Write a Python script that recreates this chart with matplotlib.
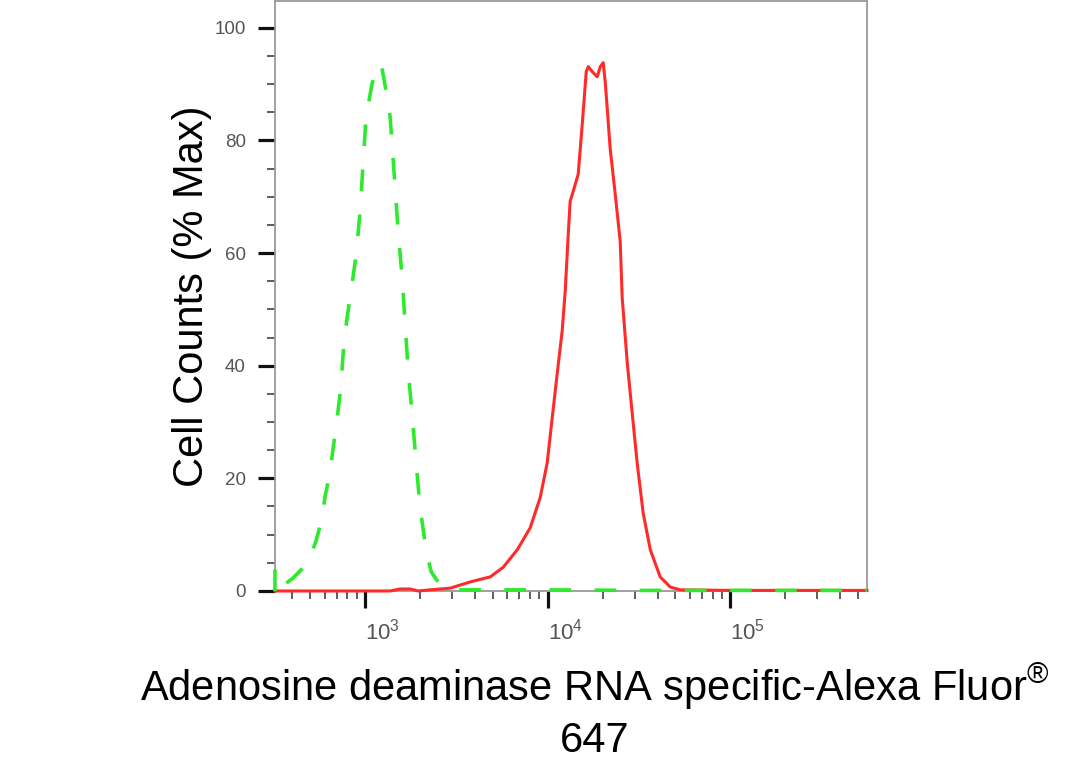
import matplotlib
matplotlib.use("Agg")
import matplotlib.pyplot as plt
import numpy as np

plt.rcParams['font.family'] = ['Liberation Sans', 'DejaVu Sans']
plt.rcParams['mathtext.fontset'] = 'custom'
plt.rcParams['mathtext.rm'] = 'Liberation Sans'
plt.rcParams['mathtext.it'] = 'Liberation Sans'

# controle isotipo (verde, tracejado): intensidade x % max
iso_x = [321, 321, 360, 403, 488, 540, 581, 604, 643, 668, 693, 721, 738, 757,
         776, 807, 838, 893, 940, 975, 1012, 1092, 1178, 1225, 1288, 1371, 1442,
         1517, 1596, 1656, 1722, 1811, 1901, 2000, 2158, 2301, 2512, 2812, 3319,
         5000, 10000, 30000, 100000, 300000, 560000]
iso_y = [0, 4.1, 1.1, 2.3, 5.0, 9.0, 12.9, 16.8, 21.1, 25.3, 29.0, 33.6, 36.5, 41.8,
         45.7, 49.7, 53.3, 59.6, 67.6, 75.9, 84.1, 90.1, 93.3, 93.6, 89.7, 84.2, 74.2,
         63.9, 55.6, 47.6, 39.1, 31.3, 23.0, 14.9, 7.3, 3.4, 1.6, 0.5, 0.2,
         0.2, 0.2, 0.1, 0.1, 0.1, 0.1]

# amostra marcada (vermelho)
amo_x = [321, 1371, 1556, 1766, 1950, 2270, 2924, 3758, 4842, 5702, 6808, 8017, 9099,
         9931, 10593, 11272, 12006, 12474, 12942, 13274, 13804, 14689, 15453, 16255,
         16672, 17539, 18664, 19409, 20137, 20654, 21184, 21978, 23442, 24946, 25586,
         27290, 29040, 30903, 33343, 36475, 41305, 46881, 53211, 100000, 560000]
amo_y = [0, 0, 0.35, 0.35, 0, 0.2, 0.5, 1.6, 2.5, 4.2, 7.3, 11.2, 16.6, 22.7, 30.8,
         38.6, 46.2, 53.3, 63.0, 69.2, 71.0, 74.0, 82.8, 92.2, 93.1, 92.2, 91.3, 93.1,
         93.8, 90.4, 85.7, 78.6, 70.4, 62.1, 52.0, 40.4, 31.5, 22.7, 13.8, 7.3, 2.5,
         0.7, 0.2, 0.1, 0.1]

y_ticks = [0, 20, 40, 60, 80, 100]
x_ticks = [1e3, 1e4, 1e5]
x_labels = ['$10^{3}$', '$10^{4}$', '$10^{5}$']

fig = plt.figure(figsize=(10.92, 7.67), dpi=100)
ax = fig.add_axes([0.2518, 0.2295, 0.5421, 0.7695])

ax.plot(amo_x, amo_y, color='#ff2a2a', lw=2.2, clip_on=False, zorder=3)
ax.plot(iso_x, iso_y, color='#2eea2e', lw=2.6, linestyle=(0, (6.0, 6.5)),
        clip_on=False, zorder=4)

ax.set_xscale('log')
ax.set_xlim(321, 560000)
ax.set_ylim(0, 104.8)

ax.set_yticks(y_ticks)
ax.set_yticks(np.arange(0, 105, 5), minor=True)
ax.xaxis.set_major_locator(matplotlib.ticker.FixedLocator(x_ticks))
ax.xaxis.set_major_formatter(matplotlib.ticker.FixedFormatter(x_labels))
ax.xaxis.set_minor_locator(matplotlib.ticker.LogLocator(base=10, subs=np.arange(2, 10)))
ax.xaxis.set_minor_formatter(matplotlib.ticker.NullFormatter())

ax.tick_params(axis='both', which='major', length=12, width=2.3, color='#111111',
               labelcolor='#555555')
ax.tick_params(axis='y', which='major', labelsize=13.5, pad=9)
ax.tick_params(axis='x', which='major', labelsize=16, pad=8)
ax.tick_params(axis='both', which='minor', length=6, width=1.1, color='#333333')

for s in ax.spines.values():
    s.set_color('#9a9a9a')
    s.set_linewidth(1.3)

ax.set_ylabel('Cell Counts (% Max)', fontsize=30, labelpad=2)
ax.set_xlabel('Adenosine deaminase RNA specific-Alexa Fluor$^{®}$\n647',
              fontsize=30, linespacing=1.3)
ax.xaxis.set_label_coords(0.54, -0.12, transform=ax.transAxes)
ax.xaxis.label.set_va('top')

fig.canvas.draw()
for t in ax.get_xticklabels():
    t.set_ha('left')

fig.savefig('out.png', dpi=100)
